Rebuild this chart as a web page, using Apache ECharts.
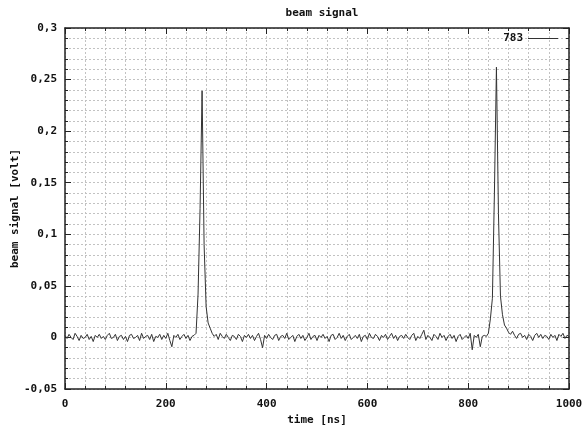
<!DOCTYPE html>
<html>
<head>
<meta charset="utf-8">
<script src="https://cdn.jsdelivr.net/npm/echarts@6/dist/echarts.min.js"></script>
<style>
  html, body { margin: 0; padding: 0; background: #fff; }
  #chart { width: 585px; height: 428px; }
</style>
</head>
<body>
<div id="chart"></div>
<script>
// sample step of the trace, ns
const step = 4;

// beam signal [volt], one value every 4 ns from 0 to 1000 ns
const signal = [
  0.002, -0.001, 0.003, 0.000, -0.002, 0.004, 0.001, -0.003, 0.002, -0.001,
  0.000, 0.003, -0.002, 0.001, -0.004, 0.002, 0.000, 0.003, -0.001, 0.001,
  -0.002, 0.002, 0.004, -0.001, 0.000, 0.003, -0.003, 0.001, 0.002, -0.002,
  0.001, -0.004, 0.002, 0.003, -0.001, 0.000, 0.002, -0.003, 0.004, -0.001,
  0.001, 0.002, -0.002, 0.003, -0.004, 0.001, 0.000, 0.003, -0.002, 0.002,
  -0.001, 0.004, -0.003, -0.009, 0.002, 0.000, 0.003, -0.002, 0.001, 0.003,
  -0.001, 0.002, -0.003, 0.001, 0.002, 0.004, 0.042, 0.125, 0.239, 0.09,
  0.03, 0.014, 0.009, 0.004, 0.001, 0.003, -0.002, 0.004, 0.001, -0.001,
  0.003, 0.000, -0.003, 0.002, 0.001, -0.002, 0.003, 0.001, -0.004, 0.002,
  0.000, 0.003, -0.001, 0.002, -0.003, 0.001, 0.004, -0.002, -0.010, 0.002,
  -0.001, 0.003, 0.000, -0.002, 0.002, 0.003, -0.003, 0.001, 0.002, -0.001,
  0.004, -0.002, 0.000, 0.002, -0.004, 0.001, 0.003, -0.001, 0.002, -0.003,
  0.000, 0.004, -0.002, 0.001, 0.002, -0.003, 0.002, 0.000, 0.003, -0.001,
  0.001, -0.004, 0.002, 0.003, -0.002, 0.000, 0.004, -0.001, 0.002, -0.003,
  0.001, 0.003, -0.002, 0.000, 0.002, -0.001, 0.003, -0.004, 0.001, 0.002,
  -0.002, 0.004, 0.000, -0.001, 0.003, 0.001, -0.003, 0.002, 0.000, 0.003,
  -0.002, 0.001, 0.004, -0.001, 0.002, -0.003, 0.001, 0.002, -0.001, 0.003,
  0.000, -0.002, 0.002, 0.004, -0.003, 0.001, -0.001, 0.003, 0.007, -0.002,
  0.002, 0.000, -0.003, 0.003, 0.001, -0.002, 0.004, 0.000, 0.002, -0.003,
  0.001, 0.003, -0.001, 0.002, -0.004, 0.001, 0.003, -0.002, 0.000, 0.002,
  -0.001, 0.004, -0.012, 0.002, 0.000, 0.003, -0.009, 0.001, 0.002, 0.001,
  0.004, 0.018, 0.038, 0.14, 0.262, 0.12, 0.04, 0.022, 0.012, 0.009,
  0.005, 0.003, 0.006, 0.002, -0.001, 0.003, 0.004, 0.000, 0.002, -0.002,
  0.003, 0.001, -0.003, 0.002, 0.004, 0.000, 0.003, -0.001, 0.002, 0.001,
  -0.002, 0.003, 0.000, 0.002, -0.003, 0.003, 0.001, 0.004, -0.001, 0.002,
  0.001
];

const xTicks = [0, 200, 400, 600, 800, 1000];
const yTicks = [-0.05, 0, 0.05, 0.1, 0.15, 0.2, 0.25, 0.3];

const font = "DejaVu Sans Mono";
const gridLine = { show: true, lineStyle: { color: "#c2c2c2", type: [2, 2], width: 1 } };
const frame = { show: true, onZero: false, lineStyle: { color: "#222", width: 1.5 } };

function fmtY(v) {
  const r = Math.round(v * 100) / 100;
  return String(r).replace(".", ",");
}

const chart = echarts.init(document.getElementById("chart"));

const baseX = {
  type: "value",
  min: xTicks[0],
  max: xTicks[xTicks.length - 1],
  interval: 200,
  axisLine: frame,
  axisTick: { show: true, inside: true, length: 6, lineStyle: { color: "#222" } },
  minorTick: { show: true, splitNumber: 5, length: 3, lineStyle: { color: "#222" } },
};
const baseY = {
  type: "value",
  min: yTicks[0],
  max: yTicks[yTicks.length - 1],
  interval: 0.05,
  axisLine: frame,
  axisTick: { show: true, inside: true, length: 6, lineStyle: { color: "#222" } },
  minorTick: { show: true, splitNumber: 5, length: 3, lineStyle: { color: "#222" } },
};

chart.setOption({
  backgroundColor: "#fff",
  animation: false,
  title: {
    text: "beam signal",
    left: 317,
    top: 3,
    textAlign: "center",
    textStyle: { fontFamily: font, fontSize: 11, fontWeight: "bold", color: "#111" },
  },
  legend: {
    right: 22,
    top: 28,
    align: "right",
    itemWidth: 30,
    itemHeight: 1,
    icon: "rect",
    itemGap: 8,
    textStyle: { fontFamily: font, fontSize: 11, fontWeight: "bold", color: "#111" },
    data: ["783"],
  },
  grid: { left: 65, right: 16, top: 28, bottom: 39, containLabel: false, outerBoundsMode: "none" },
  xAxis: [
    Object.assign({}, baseX, {
      position: "bottom",
      name: "time [ns]",
      nameLocation: "middle",
      nameGap: 26,
      nameMoveOverlap: false,
      nameTextStyle: { fontFamily: font, fontSize: 11, fontWeight: "bold", color: "#111" },
      axisLabel: { margin: 10, formatter: (v) => String(v), fontFamily: font, fontSize: 11, fontWeight: "bold", color: "#111" },
      splitLine: gridLine,
      minorSplitLine: gridLine,
    }),
    Object.assign({}, baseX, {
      position: "top",
      axisLabel: { show: false },
      splitLine: { show: false },
    }),
  ],
  yAxis: [
    Object.assign({}, baseY, {
      position: "left",
      name: "beam signal [volt]",
      nameLocation: "middle",
      nameGap: 44,
      nameMoveOverlap: false,
      nameTextStyle: { fontFamily: font, fontSize: 11, fontWeight: "bold", color: "#111" },
      axisLabel: { margin: 8, formatter: fmtY, fontFamily: font, fontSize: 11, fontWeight: "bold", color: "#111" },
      splitLine: gridLine,
      minorSplitLine: gridLine,
    }),
    Object.assign({}, baseY, {
      position: "right",
      axisLabel: { show: false },
      splitLine: { show: false },
    }),
  ],
  series: [
    {
      name: "783",
      type: "line",
      xAxisIndex: 0,
      yAxisIndex: 0,
      showSymbol: false,
      symbol: "none",
      lineStyle: { color: "#333", width: 1 },
      itemStyle: { color: "#333" },
      data: signal.map((v, i) => [i * step, v]),
    },
  ],
});
</script>
</body>
</html>
